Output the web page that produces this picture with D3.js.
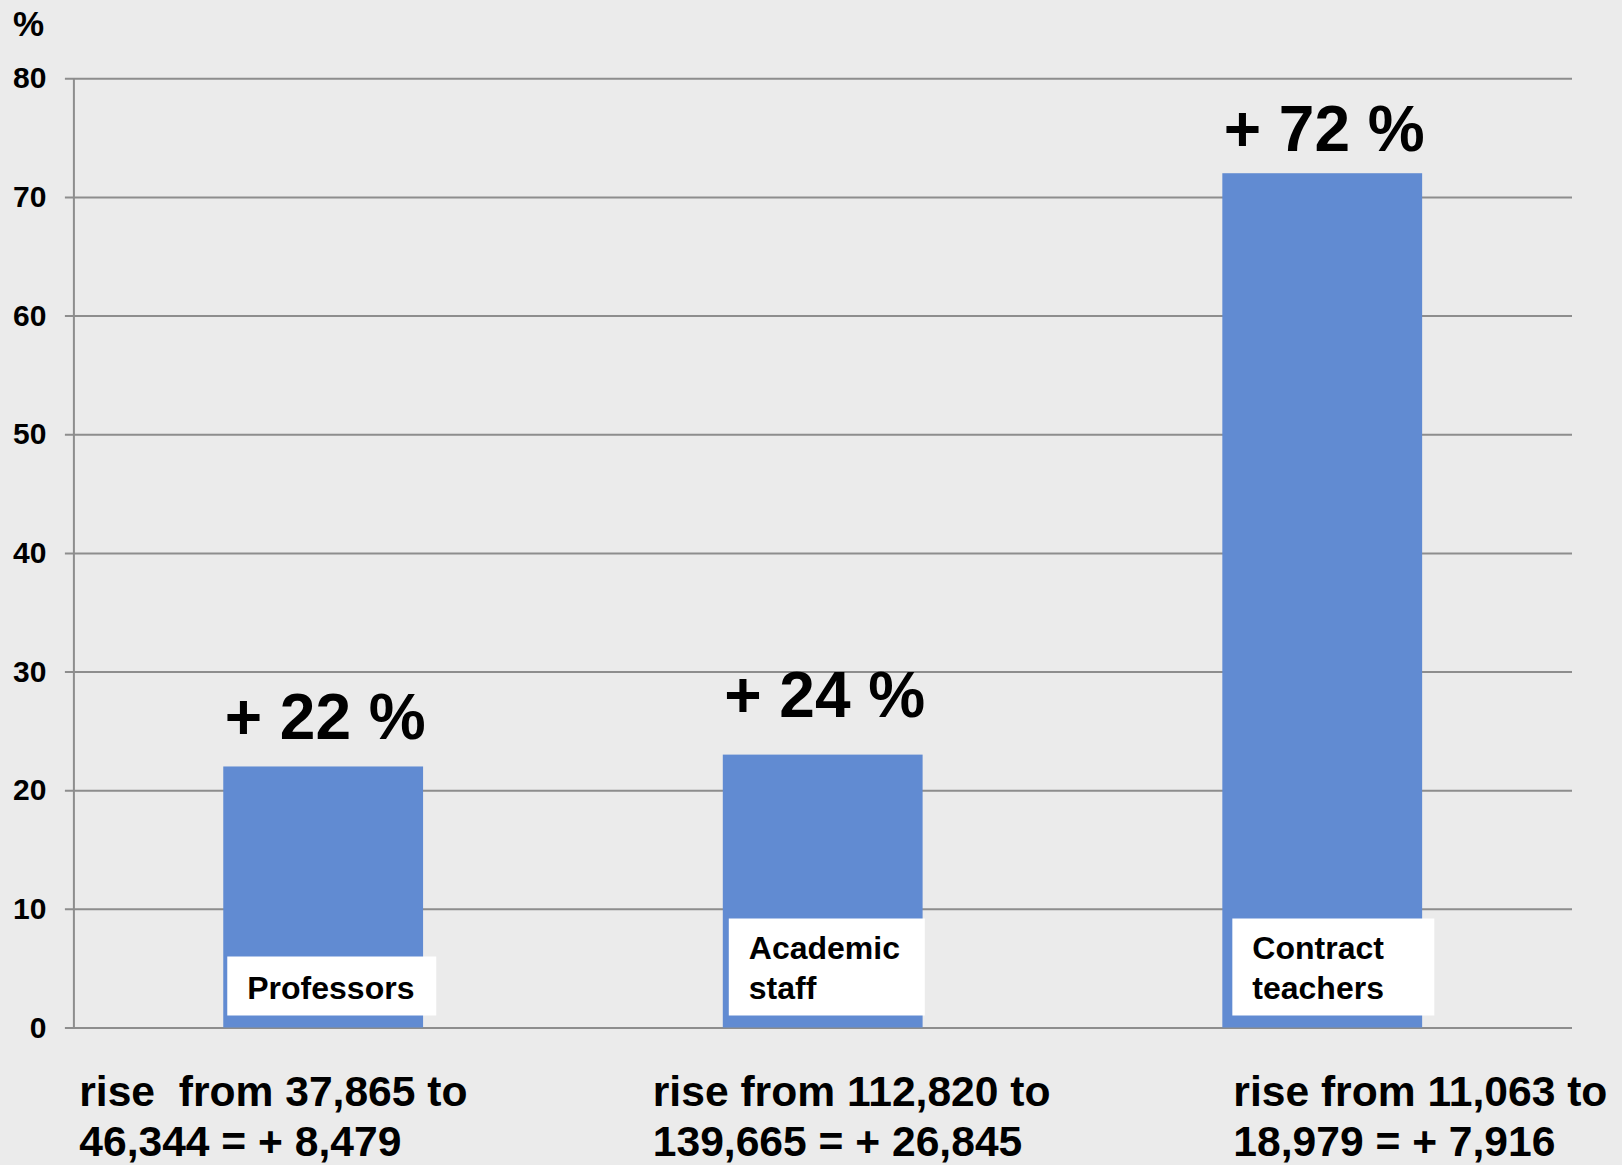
<!DOCTYPE html>
<html>
<head>
<meta charset="utf-8">
<script src="https://cdn.jsdelivr.net/npm/d3@7"></script>
<style>
  body { margin: 0; background: #ebebeb; }
  svg { display: block; font-family: "Liberation Sans", Arial, sans-serif; font-weight: bold; }
</style>
</head>
<body>
<div class="chart"></div>
<script>
// data
const categories = ["Professors", "Academic staff", "Contract teachers"];
const growthPct = [22, 23, 72];
const growthLabels = ["+ 22 %", "+ 24 %", "+ 72 %"];
const categoryLines = [["Professors"], ["Academic", "staff"], ["Contract", "teachers"]];
const noteLines = [
  ["rise  from 37,865 to", "46,344 = + 8,479"],
  ["rise from 112,820 to", "139,665 = + 26,845"],
  ["rise from 11,063 to", "18,979 = + 7,916"]
];
const yTicks = [0, 10, 20, 30, 40, 50, 60, 70, 80];

// layout tweaks (not data)
const valueLift = [27, 38, 22];
const boxDx = [4, 6, 10];
const boxW = [209, 196, 202];
const noteDx = [-144, -70, 11];

const W = 1622, H = 1165;
const plotLeft = 73.4, plotRight = 1572, plotTop = 78.3, plotBottom = 1027.5;
const grid = "#8d8d8d";

const svg = d3.select(".chart").append("svg")
  .attr("width", W)
  .attr("height", H);

const x = d3.scaleBand()
  .domain(categories)
  .range([plotLeft, plotRight])
  .paddingInner(0.6)
  .paddingOuter(0.3);

const y = d3.scaleLinear()
  .domain([0, 80])
  .range([plotBottom, plotTop]);

// y axis + gridlines
const yAxis = svg.append("g")
  .attr("transform", "translate(" + plotLeft + ",0)")
  .call(d3.axisLeft(y).tickValues(yTicks).tickSizeInner(-(plotRight - plotLeft)).tickSizeOuter(0).tickPadding(27));

yAxis.select(".domain").attr("stroke", grid).attr("stroke-width", 2);
yAxis.selectAll(".tick line")
  .attr("x1", -8.5)
  .attr("stroke", grid)
  .attr("stroke-width", 2);
yAxis.selectAll(".tick text")
  .attr("x", -27)
  .attr("fill", "#000")
  .style("font-size", "30px")
  .style("font-weight", "bold")
  .style("font-family", "'Liberation Sans', Arial, sans-serif");

svg.append("text")
  .attr("x", 13)
  .attr("y", 36)
  .style("font-size", "35px")
  .text("%");

// bars
svg.selectAll(".bar")
  .data(categories)
  .enter().append("rect")
  .attr("class", "bar")
  .attr("x", d => x(d))
  .attr("width", x.bandwidth())
  .attr("y", (d, i) => y(growthPct[i]))
  .attr("height", (d, i) => plotBottom - y(growthPct[i]))
  .attr("fill", "#618bd2");

// value labels
svg.selectAll(".val")
  .data(categories)
  .enter().append("text")
  .attr("class", "val")
  .attr("x", d => x(d) + x.bandwidth() / 2 + 2)
  .attr("y", (d, i) => y(growthPct[i]) - valueLift[i])
  .attr("text-anchor", "middle")
  .style("font-size", "64px")
  .text((d, i) => growthLabels[i]);

// category boxes
categories.forEach((c, i) => {
  const lines = categoryLines[i];
  const bh = 21 + 38 * lines.length;
  const by = plotBottom - 12;
  const bx = x(c) + boxDx[i];
  svg.append("rect")
    .attr("x", bx)
    .attr("y", by - bh)
    .attr("width", boxW[i])
    .attr("height", bh)
    .attr("fill", "#fff");
  lines.forEach((t, j) => {
    svg.append("text")
      .attr("x", bx + 20)
      .attr("y", by - 17 - (lines.length - 1 - j) * 39.5)
      .style("font-size", "32px")
      .text(t);
  });
});

// notes under the axis
categories.forEach((c, i) => {
  noteLines[i].forEach((t, j) => {
    svg.append("text")
      .attr("x", x(c) + noteDx[i])
      .attr("y", 1106 + j * 50)
      .style("font-size", "42.6px")
      .style("white-space", "pre")
      .text(t);
  });
});
</script>
</body>
</html>
